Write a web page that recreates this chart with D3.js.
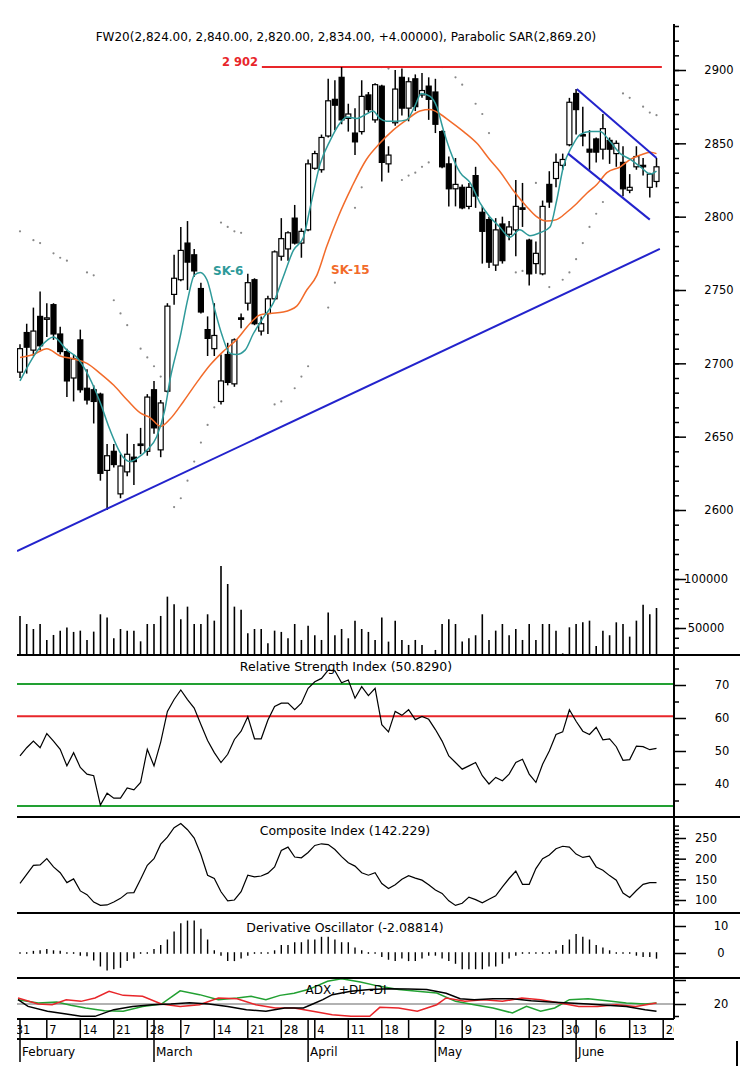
<!DOCTYPE html>
<html><head><meta charset="utf-8">
<script src="https://cdn.jsdelivr.net/npm/d3@7"></script>
<style>body{margin:0;background:#fff}svg{display:block}text{font-family:"DejaVu Sans",sans-serif}</style>
</head><body><svg id="c" width="740" height="1075"></svg>
<script>
// ---------- DATA ----------
const holidays = ["2011-04-22","2011-04-25","2011-05-03"];
const weekDates  = ["2011-01-31","2011-02-07","2011-02-14","2011-02-21","2011-02-28","2011-03-07","2011-03-14","2011-03-21","2011-03-28","2011-04-04","2011-04-11","2011-04-18","2011-04-26","2011-05-02","2011-05-09","2011-05-16","2011-05-23","2011-05-30","2011-06-06","2011-06-13","2011-06-20"];
const weekLabels = ["31","7","14","21","28","7","14","21","28","4","11","18","","2","9","16","23","30","6","13","20"];
const monthDates  = ["2011-02-01","2011-03-01","2011-04-01","2011-05-02","2011-06-01"];
const monthLabels = ["February","March","April","May","June"];

const opens  = [2694,2721,2709,2732,2730,2740,2720,2708,2690,2716,2683,2682,2679,2627,2640,2611,2626,2636,2645,2640,2682,2641,2681,2747,2757,2782,2774,2751,2723,2710,2674,2706,2686,2731,2741,2757,2722,2734,2744,2773,2778,2799,2782,2791,2833,2832,2855,2880,2895,2867,2857,2858,2883,2866,2889,2836,2864,2895,2874,2894,2883,2889,2885,2858,2836,2819,2820,2807,2828,2803,2798,2767,2795,2788,2791,2806,2784,2768,2761,2822,2826,2835,2849,2884,2856,2846,2853,2846,2852,2843,2837,2818,2834,2835,2820,2824];
const highs  = [2713,2727,2738,2749,2741,2741,2725,2710,2706,2723,2696,2685,2680,2645,2645,2638,2652,2645,2656,2679,2688,2675,2741,2774,2793,2797,2778,2755,2732,2741,2706,2714,2717,2734,2761,2758,2732,2746,2777,2799,2790,2808,2792,2839,2845,2856,2894,2893,2902,2877,2874,2893,2885,2891,2890,2848,2900,2901,2895,2897,2898,2895,2894,2859,2841,2840,2822,2823,2834,2807,2800,2799,2800,2797,2825,2823,2785,2783,2811,2831,2843,2843,2881,2887,2875,2859,2854,2870,2854,2852,2848,2829,2848,2840,2830,2840];
const lows   = [2690,2693,2705,2709,2718,2716,2706,2677,2674,2680,2672,2659,2620,2600,2629,2608,2623,2617,2638,2637,2652,2636,2680,2740,2756,2750,2759,2734,2705,2705,2672,2685,2684,2724,2736,2726,2719,2720,2743,2770,2770,2781,2772,2790,2832,2830,2854,2859,2863,2858,2842,2856,2871,2864,2824,2830,2862,2869,2865,2872,2881,2866,2857,2833,2807,2807,2805,2805,2806,2768,2765,2763,2768,2784,2773,2793,2753,2761,2760,2806,2820,2832,2848,2856,2848,2832,2837,2839,2836,2834,2814,2816,2832,2828,2813,2820];
const closes = [2710,2711,2722,2712,2731,2720,2708,2688,2703,2682,2675,2674,2625,2637,2631,2630,2638,2633,2644,2677,2656,2673,2739,2758,2777,2769,2763,2735,2717,2719,2688,2687,2716,2730,2755,2727,2727,2744,2776,2785,2789,2782,2790,2836,2843,2854,2879,2876,2866,2870,2851,2882,2873,2890,2837,2842,2887,2874,2892,2875,2886,2880,2863,2834,2819,2822,2806,2820,2814,2790,2769,2791,2770,2793,2807,2805,2761,2775,2807,2810,2837,2839,2878,2873,2855,2844,2844,2860,2846,2850,2819,2820,2841,2834,2829,2834];
const volumes = [62300,54100,49000,54100,37800,42900,47300,50400,46000,47300,37800,46300,64000,60600,39500,49000,47300,47300,36400,54100,54100,62300,82000,74200,58900,71800,54100,54100,64000,57500,113300,94900,71800,68700,44600,49000,49000,34400,47300,46000,39500,54100,37800,52400,42600,37800,65700,42600,49000,39500,57500,49000,46000,37800,60600,36100,57500,37800,32700,37800,32700,22500,27600,54100,58900,54100,36100,39500,42600,64000,37800,47300,54100,42600,49000,37800,54100,37800,54100,54100,47300,24200,50700,54100,55800,57500,31700,47300,42600,55800,54100,41200,57500,73800,64000,70400];

// moving averages, read as [day, value]
const sk6 = [[0,2688],[3,2711],[5,2718],[7,2709],[8.5,2704],[9.7,2696],[11,2684],[12,2673],[13.4,2655],[15.4,2636],[16.4,2633],[17.4,2635],[19,2641],[20.4,2650],[21.6,2668],[22.4,2689],[23.9,2718],[25.1,2745],[26,2760],[26.9,2762],[27.9,2757],[29.1,2736],[30.1,2720],[31.3,2707],[32.3,2706],[33.6,2709],[34.8,2720],[36.3,2731],[37.8,2741],[39.3,2759],[40.8,2777],[42.3,2786],[43.3,2806],[44.8,2836],[46.3,2852],[47.8,2864],[48.8,2868],[50.3,2867],[51.7,2870],[52.7,2872],[53.7,2867],[54.7,2865],[56.2,2865],[57.7,2866],[58.9,2875],[59.9,2884],[61.2,2882],[62.2,2875],[63.2,2859],[64.2,2845],[65.7,2830],[67.2,2823],[68.7,2809],[70.1,2800],[71.6,2793],[73.1,2786],[74.6,2791],[76.1,2787],[77.6,2789],[79.1,2793],[80.1,2811],[81.1,2834],[82.4,2848],[83.6,2856],[85.1,2858],[86.6,2858],[88.1,2851],[89.6,2843],[91.1,2839],[92.6,2834],[94.1,2829],[95,2831]];
const sk15 = [[0,2704],[2,2706],[4,2710],[6,2705],[8,2703],[10,2700],[12,2693],[14,2685],[16,2675],[18,2666],[19.4,2663],[21,2657],[22.4,2662],[24.4,2674],[26.4,2687],[28.4,2699],[30.3,2708],[32.3,2716],[34.3,2727],[35.8,2733],[37.3,2734],[39.3,2735],[41.3,2739],[42.8,2750],[44.3,2760],[45.8,2780],[47.5,2800],[49.5,2820],[51.7,2839],[53.7,2850],[55.7,2859],[57.7,2866],[59.7,2872],[61.2,2873],[62.7,2870],[64.2,2865],[66.2,2858],[68.2,2850],[70.1,2839],[71.6,2831],[73.6,2818],[75.6,2807],[77.1,2800],[78.6,2797],[80.1,2798],[81.6,2803],[83.1,2809],[84.6,2816],[86.1,2822],[87.6,2830],[89.6,2834],[91.1,2839],[92.6,2842],[94.1,2844],[95,2843]];
// parabolic SAR dots [day, value]
const sar = [[0,2790],[2,2784],[3,2782],[5,2775],[6,2772],[7,2770],[10,2762],[11,2760],[14,2743],[15,2734],[16,2726],[18,2710],[19,2704],[20,2698],[21,2691],
 [23,2602],[24,2608],[25,2620],[26,2633],[27,2646],[28,2658],[29,2670],
 [30,2796],[31,2793],[32,2790],[33,2789],
 [38,2672],[39,2674],[41,2683],[42,2691],[43,2698],[46,2738],[47,2755],[50,2806],[51,2820],
 [54,2902],[55,2901],[57,2825],[58,2828],[59,2830],[60,2834],[61,2837],
 [63,2902],[65,2895],[66,2890],[68,2877],[69,2870],[70,2857],
 [74,2762],[75,2763],[77,2823],
 [79,2752],[81,2757],[82,2762],[83,2771],[84,2782],[85,2793],[86,2802],[87,2810],
 [90,2884],[91,2881],[93,2875],[94,2871],[95,2869.2]];
const supportLine  = [[-0.45,2572],[95.5,2778]];
const channelUpper = [[83.1,2887],[95,2840]];
const channelLower = [[81.8,2843],[94,2798]];
const resistLine   = [[36.1,2902],[95.8,2902]];

const rsi = [48.5,51,53,51,55.3,53,50.5,45.5,49.5,45,43,42.5,33.6,37.2,35.7,35.7,38.8,38.2,40.5,50.5,45.5,52.7,62,65.6,68.5,65.6,63,58,53.2,49.5,46.5,49,53.5,56,60.4,53.7,53.7,59.4,63.5,64.5,64.5,62.5,64.5,69,71,72,74.5,74.3,70.7,71.5,66,69.5,66.8,69,58,55.8,62,60.8,62.5,59.5,60.5,59.6,56.5,53,48.5,46.5,44.5,45.5,46.5,42.5,40,42,41,43,46.5,47.5,43,40.5,46,50,55,55.8,62.5,59,56,55,57.2,53.4,53.7,51.3,47.2,47.4,51.5,51.3,50.4,50.8];
const rsiLevels = [70.3, 60.5, 33.3];
const composite = [140,162,184,185,200,180,166,142,151,122,113,95,87,88,95,104,117,118,150,184,200,235,252,275,285,270,250,210,160,152,120,98,100,120,160,156,158,165,180,220,228,204,202,215,232,236,234,222,205,190,182,166,160,166,140,128,137,150,159,153,148,137,124,116,98,87,92,107,101,93,102,110,132,152,170,138,138,176,200,209,224,230,228,211,203,206,180,172,159,148,117,106,123,138,142,142];
const derivative = [0.3,0.2,0.8,1,1.5,1,0.8,0.2,0,-1,-1.2,-2.8,-5,-6.5,-6,-5.5,-3,-2,0.2,0.3,1.5,3,5,8,11,12,12,9,5,1,-1,-3,-3,-2,-1,-0.3,0.3,0.5,1,3,3,4,4,5,5,6,6,5,4,4,2,1,0.3,-0.5,-1.5,-2.5,-3,-2,-3,-3,-2,-1,-1,-2,-3,-4,-6,-6,-6,-6,-5,-5,-4,-2,-1,-0.4,-0.3,0.3,0.3,0.3,1,3,5,7,6,5,3,2,1,0.4,0.3,-0.3,-1,-1.5,-1.5,-2.1];
const adx = [[-0.3,23.6],[1.2,18],[4.1,14],[6.9,11.7],[9.1,9.7],[11.2,9.7],[14,15.3],[16.8,18],[19.7,19.4],[22.5,20],[25.3,21],[28.2,20],[31,18],[33.8,15.3],[36.7,14],[39.5,16.7],[42.3,16.7],[43.7,20],[45.2,23.6],[46.6,27.8],[49.4,30.6],[52.2,32],[55.1,32.8],[57.9,32.5],[60.7,32],[63.6,29],[65.7,24.4],[67.8,23.6],[70.6,24.4],[73.5,24.4],[76.3,22.8],[79.1,21.7],[82,20.8],[84.8,20],[87.6,18.9],[90.5,18],[93.3,15.3],[95,14]];
const plusDI = [[-0.3,23.6],[2.7,20.8],[5.5,21.7],[7.6,18.9],[9.8,16.7],[12.6,14.4],[15.4,14],[18.3,18],[21.1,20],[23.9,31],[26.8,27.8],[29.6,23.6],[32.4,25],[34.5,26.4],[36.7,23.6],[38.8,27.2],[40.9,29],[43,32],[45.9,38.9],[48,41],[50.8,38.3],[53.7,34.7],[56.5,32],[59.3,30.6],[62.2,29.2],[65,22.2],[67.8,19.4],[70.6,16.7],[73.5,12.5],[75.6,18],[77.7,13.9],[79.8,16.7],[82,23.6],[84.8,24.4],[87.6,22.8],[90.5,20.8],[93.3,20],[95,20.8]];
const minusDI = [[-0.3,25],[2.7,20],[4.8,19.4],[6.9,23.6],[9.1,22.2],[11.2,25],[13.3,30.6],[15.4,27.2],[18.3,26.4],[21.1,20],[23.9,18],[26.8,19.4],[29.6,25],[32.4,24.4],[35.2,19.4],[38.1,16.7],[40.9,16.7],[43.7,13.9],[46.6,11.1],[49.4,9.7],[52.2,9.7],[53.7,17.2],[56.5,16.7],[59.3,13.9],[62.2,19.4],[63.6,25],[66.4,22.2],[69.2,23.6],[72,22.2],[74.9,25],[77.7,23.6],[80.6,20.8],[83.4,18],[86.2,18],[89,19.4],[91.9,18],[95,20.8]];

const titleText = "FW20(2,824.00, 2,840.00, 2,820.00, 2,834.00, +4.00000), Parabolic SAR(2,869.20)";

// ---------- CALENDAR ----------
const calendar = [];
for (let d = new Date(Date.UTC(2011,0,31)); d <= new Date(Date.UTC(2011,5,20)); d.setUTCDate(d.getUTCDate()+1)) {
  const wd = d.getUTCDay(), s = d.toISOString().slice(0,10);
  if (wd === 0 || wd === 6 || holidays.includes(s)) continue;
  calendar.push(s);
}
const candleDates = calendar.slice(1, 97);

// ---------- SCALES ----------
const x = d3.scalePoint().domain(calendar).range([13.3, 663.2]);
const xi = d3.scaleLinear().domain([0, 95]).range([x(candleDates[0]), x(candleDates[95])]);
const yP = d3.scaleLinear().domain([2600, 2900]).range([510, 70]);
const yV = d3.scaleLinear().domain([50000, 100000]).range([628, 579]);
const yR = d3.scaleLinear().domain([40, 70]).range([784, 685]);
const yC = d3.scaleLinear().domain([100, 250]).range([900, 838]);
const yD = d3.scaleLinear().domain([0, 10]).range([953, 926]);
const yA = d3.scaleLinear().domain([20, 40]).range([1004, 980]);

const AX = 674, L = 17;
const svg = d3.select("#c");
const defs = svg.append("defs");
defs.append("clipPath").attr("id","plot").append("rect").attr("x",L).attr("y",20).attr("width",AX-L).attr("height",1000);
defs.append("clipPath").attr("id","xaxis").append("rect").attr("x",L).attr("y",1015).attr("width",AX-L).attr("height",60);

// ---------- TITLE ----------
svg.append("text").attr("x",346).attr("y",41).attr("text-anchor","middle").attr("font-size",12).text(titleText);

// ---------- PRICE PANEL ----------
const gp = svg.append("g").attr("clip-path","url(#plot)");
gp.selectAll("circle.sar").data(sar).join("circle").attr("cx",d=>xi(d[0])).attr("cy",d=>yP(d[1])).attr("r",1.1).attr("fill","#888");

const ln = (sx, sy) => d3.line().x(d=>xi(d[0])).y(d=>sy(d[1]));
gp.append("path").attr("d", ln(xi,yP)(resistLine)).attr("stroke","#e8262a").attr("stroke-width",2).attr("fill","none");

// candles
const cd = candleDates.map((d,i)=>({d,o:opens[i],h:highs[i],l:lows[i],c:closes[i]}));
gp.selectAll("line.wick").data(cd).join("line").attr("x1",d=>x(d.d)).attr("x2",d=>x(d.d)).attr("y1",d=>yP(d.h)).attr("y2",d=>yP(d.l)).attr("stroke","#000").attr("stroke-width",1.5);
gp.selectAll("rect.body").data(cd).join("rect")
  .attr("x",d=>x(d.d)-2.5).attr("width",5)
  .attr("y",d=>yP(Math.max(d.o,d.c))).attr("height",d=>Math.max(1,Math.abs(yP(d.o)-yP(d.c))))
  .attr("fill",d=>d.c>=d.o?"#fff":"#000").attr("stroke","#000").attr("stroke-width",1.2);

const curve = d3.line().x(d=>xi(d[0])).y(d=>yP(d[1])).curve(d3.curveMonotoneX);
gp.append("path").attr("d",curve(sk15)).attr("stroke","#f26b2a").attr("stroke-width",1.5).attr("fill","none");
gp.append("path").attr("d",curve(sk6)).attr("stroke","#2e9a9a").attr("stroke-width",1.5).attr("fill","none");

[supportLine, channelUpper, channelLower].forEach(t=>{
  gp.append("path").attr("d", ln(xi,yP)(t)).attr("stroke","#2323cc").attr("stroke-width",2).attr("fill","none");
});

svg.append("text").attr("x",222).attr("y",66).attr("font-size",11.5).attr("font-weight","bold").attr("fill","#e8262a").text("2 902");
svg.append("text").attr("x",213).attr("y",275).attr("font-size",12).attr("font-weight","bold").attr("fill","#2e9a9a").text("SK-6");
svg.append("text").attr("x",331).attr("y",274).attr("font-size",12).attr("font-weight","bold").attr("fill","#f26b2a").text("SK-15");

// volume
gp.selectAll("line.vol").data(candleDates.map((d,i)=>({d,v:volumes[i]}))).join("line")
  .attr("x1",d=>x(d.d)).attr("x2",d=>x(d.d)).attr("y1",655).attr("y2",d=>yV(d.v)).attr("stroke","#000").attr("stroke-width",1.6);

// ---------- RSI ----------
const levelColors = ["#22a032","#e8262a","#22a032"];
rsiLevels.forEach((v,k)=>svg.append("line").attr("x1",L).attr("x2",AX).attr("y1",yR(v)).attr("y2",yR(v)).attr("stroke",levelColors[k]).attr("stroke-width",2));
const dl = (sy)=>d3.line().x((d,i)=>xi(i)).y(d=>sy(d));
svg.append("path").attr("d",dl(yR)(rsi)).attr("stroke","#000").attr("stroke-width",1.2).attr("fill","none");
svg.append("text").attr("x",346).attr("y",671).attr("text-anchor","middle").attr("font-size",12.5).text("Relative Strength Index (50.8290)");

// ---------- COMPOSITE ----------
svg.append("path").attr("d",dl(yC)(composite)).attr("stroke","#000").attr("stroke-width",1.2).attr("fill","none");
svg.append("text").attr("x",345).attr("y",835).attr("text-anchor","middle").attr("font-size",12.5).text("Composite Index (142.229)");

// ---------- DERIVATIVE ----------
svg.selectAll("line.der").data(derivative).join("line")
  .attr("x1",(d,i)=>xi(i)).attr("x2",(d,i)=>xi(i))
  .attr("y1",d=>yD(0)+(d>=0?0.8:-0.8)).attr("y2",d=>{const y=yD(d); return Math.abs(y-yD(0))<1.6 ? yD(0)+(d>=0?-0.8:0.8) : y;})
  .attr("stroke","#000").attr("stroke-width",1.4);
svg.append("text").attr("x",345).attr("y",932).attr("text-anchor","middle").attr("font-size",12.5).text("Derivative Oscillator (-2.08814)");

// ---------- ADX ----------
svg.append("line").attr("x1",L).attr("x2",AX).attr("y1",yA(20)).attr("y2",yA(20)).attr("stroke","#999").attr("stroke-width",1.5);
const al = d3.line().x(d=>xi(d[0])).y(d=>yA(d[1]));
svg.append("path").attr("d",al(plusDI)).attr("stroke","#22a032").attr("stroke-width",1.5).attr("fill","none");
svg.append("path").attr("d",al(minusDI)).attr("stroke","#e8262a").attr("stroke-width",1.5).attr("fill","none");
svg.append("path").attr("d",al(adx)).attr("stroke","#000").attr("stroke-width",1.5).attr("fill","none");
svg.append("text").attr("x",346).attr("y",994).attr("text-anchor","middle").attr("font-size",12).text("ADX, +DI, -DI");

// ---------- FRAME / SEPARATORS ----------
[655,817,913,978].forEach(y=>svg.append("line").attr("x1",L).attr("x2",740).attr("y1",y).attr("y2",y).attr("stroke","#000").attr("stroke-width",2));
[1019,1039].forEach(y=>svg.append("line").attr("x1",L).attr("x2",AX).attr("y1",y).attr("y2",y).attr("stroke","#000").attr("stroke-width",2));
svg.append("line").attr("x1",AX).attr("x2",AX).attr("y1",24).attr("y2",1019).attr("stroke","#000").attr("stroke-width",2);
svg.append("line").attr("x1",737).attr("x2",737).attr("y1",1041).attr("y2",1066).attr("stroke","#000").attr("stroke-width",2);

// ---------- RIGHT AXES ----------
function rightAxis(scale, major, minor, cx, fmt){
  const g = svg.append("g").attr("transform",`translate(${AX},0)`);
  g.call(d3.axisRight(scale).tickValues(minor).tickSize(5).tickFormat(""));
  const gm = svg.append("g").attr("transform",`translate(${AX},0)`);
  gm.call(d3.axisRight(scale).tickValues(major).tickSize(12).tickFormat(fmt||d3.format("d")));
  [g,gm].forEach(a=>{a.select(".domain").remove(); a.selectAll("line").attr("stroke-width",1.5);});
  gm.selectAll("text").attr("text-anchor","middle").attr("x",cx-AX).attr("font-size",11.5).attr("font-family","DejaVu Sans");
  return gm;
}
rightAxis(yP, d3.range(2600,2901,50), d3.range(2570,2931,10), 719);
rightAxis(yV, [50000,100000], d3.range(30000,110001,10000), 706);
rightAxis(yR, [40,50,60,70], [35,45,55,65,75], 722);
rightAxis(yC, [100,150,200,250], d3.range(90,281,10), 706);
rightAxis(yD, [0,10], [-5,5], 721);
const ga = rightAxis(yA, [20,40], [10,30], 721);
ga.selectAll("text").filter(d=>d===40).remove();

// ---------- DATE AXIS ----------
const gx = svg.append("g").attr("clip-path","url(#xaxis)");
weekDates.forEach((d,k)=>{
  const px = x(d);
  gx.append("line").attr("x1",px).attr("x2",px).attr("y1",1019).attr("y2",1039).attr("stroke","#000").attr("stroke-width",1.5);
  gx.append("text").attr("x",px+2.5).attr("y",1034).attr("font-size",11.5).text(weekLabels[k]);
});
monthDates.forEach((d,k)=>{
  const px = x(d);
  gx.append("line").attr("x1",px).attr("x2",px).attr("y1",1019).attr("y2",1062).attr("stroke","#000").attr("stroke-width",1.5);
  gx.append("text").attr("x",px+2).attr("y",1056).attr("font-size",12).text(monthLabels[k]);
});
</script></body></html>
